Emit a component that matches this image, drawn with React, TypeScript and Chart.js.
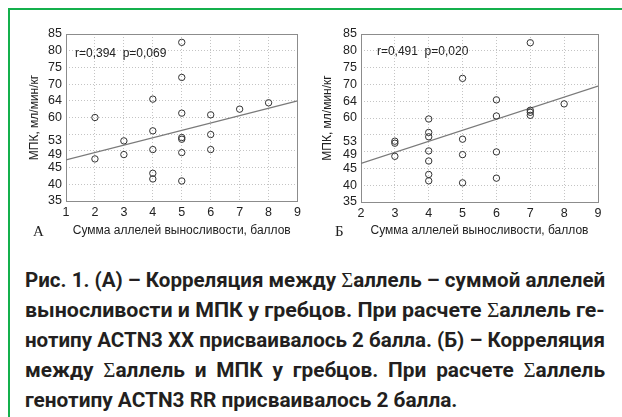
import React, { useEffect, useRef, useState } from 'react';
import { Chart, registerables } from 'chart.js';

Chart.register(...registerables);

// ---------- DATA ----------
// Panel A
const scoresA = [2, 2, 3, 3, 4, 4, 4, 4, 4, 5, 5, 5, 5, 5, 5, 5, 6, 6, 6, 7, 8];
const vo2A = [60.0, 47.6, 53.0, 48.9, 65.5, 56.0, 50.4, 43.3, 41.6, 82.5, 72.0, 61.3, 54.0, 53.5, 49.5, 41.0, 60.8, 54.9, 50.4, 62.5, 64.4];
const trendXA = [1, 9];
const trendYA = [47.3, 65.0];
const statsA = 'r=0,394  p=0,069';

// Panel B
const scoresB = [3, 3, 3, 4, 4, 4, 4, 4, 4, 4, 5, 5, 5, 5, 6, 6, 6, 6, 7, 7, 7, 7, 8];
const vo2B = [53.1, 52.5, 48.6, 59.7, 55.7, 54.4, 50.2, 47.2, 43.2, 41.3, 71.8, 53.7, 49.1, 40.7, 65.4, 60.6, 49.9, 42.1, 82.4, 62.3, 61.7, 60.8, 64.2];
const trendXB = [2, 9];
const trendYB = [46.5, 69.5];
const statsB = 'r=0,491  p=0,020';

// Axis ticks
const yTickValues = [35, 40, 45, 49, 53, 60, 65, 70, 75, 80, 85];
const yTickLabels = ['35', '40', '45', '49', '53', '60', '64', '70', '75', '80', '85'];
const yTitle = 'МПК, мл/мин/кг';
const xTitle = 'Сумма аллелей выносливости, баллов';

const captionLines = [
  'Рис. 1. (А) – Корреляция между Σаллель – суммой аллелей',
  'выносливости и МПК у гребцов. При расчете Σаллель ге-',
  'нотипу ACTN3 XX присваивалось 2 балла. (Б) – Корреляция',
  'между Σаллель и МПК у гребцов. При расчете Σаллель',
  'генотипу ACTN3 RR присваивалось 2 балла.',
];
// mode of each typeset line: 'fit' = set to full width, 'justify' = spaces stretched, 'left' = ragged last line
const captionModes = ['fit', 'fit', 'fit', 'justify', 'left'];

// ---------- CHART ----------
const FONT = '"Liberation Sans", Arial, sans-serif';
const TXT = '#222';

const statsPlugin = {
  id: 'stats',
  afterDatasetsDraw(chart: any, _args: any, opts: any) {
    const { ctx, scales } = chart;
    ctx.save();
    ctx.font = `12px ${FONT}`;
    ctx.fillStyle = TXT;
    ctx.textBaseline = 'middle';
    ctx.textAlign = 'left';
    ctx.fillText(opts.text, scales.x.getPixelForValue(opts.x), scales.y.getPixelForValue(opts.y));
    ctx.restore();
  },
};

type PanelProps = {
  xs: number[];
  ys: number[];
  tx: number[];
  ty: number[];
  xMin: number;
  xMax: number;
  stats: string;
  statsX: number;
  statsY: number;
  width: number;
  height: number;
  padRight: number;
  xAxisHeight: number;
  yTitlePad: number;
};

function Panel(p: PanelProps) {
  const ref = useRef<HTMLCanvasElement | null>(null);
  useEffect(() => {
    if (!ref.current) return;
    const chart = new Chart(ref.current, {
      type: 'scatter',
      data: {
        datasets: [
          {
            data: p.xs.map((x, i) => ({ x, y: p.ys[i] })),
            pointStyle: 'circle',
            pointRadius: 3.2,
            pointBorderWidth: 1,
            pointBorderColor: '#333',
            pointBackgroundColor: 'rgba(0,0,0,0)',
            pointHoverRadius: 3.2,
          },
          {
            data: p.tx.map((x, i) => ({ x, y: p.ty[i] })),
            showLine: true,
            borderColor: '#7a7a7a',
            borderWidth: 1.2,
            pointRadius: 0,
            pointHoverRadius: 0,
          },
        ],
      },
      options: {
        responsive: false,
        animation: false,
        events: [],
        layout: { padding: { top: 24, right: p.padRight, bottom: 0, left: 0 } },
        plugins: {
          legend: { display: false },
          tooltip: { enabled: false },
          stats: { text: p.stats, x: p.statsX, y: p.statsY },
        } as any,
        scales: {
          x: {
            type: 'linear',
            position: 'bottom',
            min: p.xMin,
            max: p.xMax,
            afterFit: (s: any) => { s.height = p.xAxisHeight; },
            ticks: { stepSize: 1, color: TXT, font: { family: FONT, size: 12.5 }, padding: 4 },
            grid: { color: '#c4c4c4', lineWidth: 1, drawTicks: false },
            border: { display: true, color: '#8c8c8c', width: 1, dash: [1, 2] },
            title: {
              display: true,
              text: xTitle,
              color: TXT,
              font: { family: FONT, size: 12 },
              padding: { top: 0, bottom: 11.8 },
            },
          },
          xTop: {
            type: 'linear',
            position: 'top',
            min: p.xMin,
            max: p.xMax,
            afterFit: (s: any) => { s.height = 0; },
            ticks: { display: false },
            grid: { display: true, drawOnChartArea: false, drawTicks: false },
            border: { display: true, color: '#8c8c8c', width: 1 },
          },
          y: {
            type: 'linear',
            position: 'left',
            min: 35,
            max: 85,
            afterFit: (s: any) => { s.width = 56; },
            afterBuildTicks: (s: any) => { s.ticks = yTickValues.map((v) => ({ value: v })); },
            ticks: {
              color: TXT,
              font: { family: FONT, size: 12.5 },
              padding: 4,
              autoSkip: false,
              callback: (v: any) => {
                const i = yTickValues.indexOf(Number(v));
                return i >= 0 ? yTickLabels[i] : '';
              },
            },
            grid: { display: true, drawOnChartArea: false, drawTicks: false },
            border: { display: true, color: '#8c8c8c', width: 1 },
            title: {
              display: true,
              text: yTitle,
              color: TXT,
              font: { family: FONT, size: 12 },
              padding: { top: p.yTitlePad, bottom: 0 },
            },
          },
          yGrid: {
            type: 'linear',
            position: 'right',
            min: 35,
            max: 85,
            afterFit: (s: any) => { s.width = 0; },
            ticks: { display: false, stepSize: 5 },
            grid: { color: '#c4c4c4', lineWidth: 1, drawTicks: false },
            border: { display: true, color: '#8c8c8c', width: 1, dash: [1, 2] },
          },
        } as any,
      },
      plugins: [statsPlugin as any],
    });
    return () => chart.destroy();
  }, []);
  return <canvas ref={ref} width={p.width} height={p.height} style={{ width: p.width, height: p.height, display: 'block' }} />;
}

function LineText({ text }: { text: string }) {
  const parts = text.split('Σ');
  return (
    <>
      {parts.map((s, i) => (
        <React.Fragment key={i}>
          {i > 0 && <span style={{ fontFamily: '"Liberation Serif", serif', fontWeight: 400 }}>Σ</span>}
          {s}
        </React.Fragment>
      ))}
    </>
  );
}

const CAPTION_W = 580;

function Caption() {
  const refs = useRef<(HTMLSpanElement | null)[]>([]);
  const [scales, setScales] = useState<number[] | null>(null);
  useEffect(() => {
    const measure = () => {
      const nat = refs.current.map((el) => (el ? el.offsetWidth : 1));
      const s = captionModes.map((m, i) => (m === 'fit' ? CAPTION_W / nat[i] : 0));
      const fixed = s.filter((v) => v > 0);
      const avg = fixed.reduce((a, b) => a + b, 0) / fixed.length;
      setScales(s.map((v) => (v > 0 ? v : avg)));
    };
    measure();
    const fonts = (document as any).fonts;
    if (fonts && fonts.ready) fonts.ready.then(measure);
  }, []);
  const base: React.CSSProperties = {
    fontFamily: 'Roboto, "Noto Sans", sans-serif',
    fontWeight: 700,
    fontSize: 21,
    lineHeight: '30px',
    color: '#231f20',
  };
  return (
    <div style={{ position: 'absolute', left: 25, top: 265, width: CAPTION_W, ...base }}>
      {captionLines.map((t, i) => {
        const s = scales ? scales[i] : 1;
        const mode = captionModes[i];
        return (
          <div key={i} style={{ height: 30, position: 'relative', visibility: scales ? 'visible' : 'hidden' }}>
            {mode === 'justify' ? (
              <div
                style={{
                  position: 'absolute',
                  left: 0,
                  top: 0,
                  width: CAPTION_W / s,
                  transform: `scaleX(${s})`,
                  transformOrigin: '0 0',
                  textAlign: 'justify',
                  textAlignLast: 'justify',
                } as any}
              >
                <LineText text={t} />
              </div>
            ) : (
              <span
                ref={(el) => { refs.current[i] = el; }}
                style={{
                  position: 'absolute',
                  left: 0,
                  top: 0,
                  whiteSpace: 'nowrap',
                  display: 'inline-block',
                  transform: `scaleX(${s})`,
                  transformOrigin: '0 0',
                }}
              >
                <LineText text={t} />
              </span>
            )}
          </div>
        );
      })}
    </div>
  );
}

export default function App() {
  return (
    <div style={{ position: 'fixed', left: 0, top: 0, width: 622, height: 417, background: '#fff', overflow: 'hidden' }}>
      <div
        style={{
          position: 'absolute',
          left: 8,
          top: 8,
          right: 0,
          bottom: 0,
          borderTop: '2px solid #14b04c',
          borderLeft: '2px solid #14b04c',
        }}
      />
      <div style={{ position: 'absolute', left: 10, top: 10 }}>
        <Panel
          xs={scoresA} ys={vo2A} tx={trendXA} ty={trendYA}
          xMin={1} xMax={9}
          stats={statsA} statsX={1.31} statsY={79.0}
          width={295} height={240} padRight={7} xAxisHeight={49} yTitlePad={17.8}
        />
      </div>
      <div style={{ position: 'absolute', left: 305, top: 10 }}>
        <Panel
          xs={scoresB} ys={vo2B} tx={trendXB} ty={trendYB}
          xMin={2} xMax={9}
          stats={statsB} statsX={2.47} statsY={79.6}
          width={317} height={240} padRight={24} xAxisHeight={48} yTitlePad={15.8}
        />
      </div>
      <div style={{ position: 'absolute', left: 33, top: 222, font: '15px "Liberation Serif", "Times New Roman", serif', color: '#222', lineHeight: '18px' }}>А</div>
      <div style={{ position: 'absolute', left: 335, top: 222, font: '15px "Liberation Serif", "Times New Roman", serif', color: '#222', lineHeight: '18px' }}>Б</div>
      <Caption />
    </div>
  );
}
